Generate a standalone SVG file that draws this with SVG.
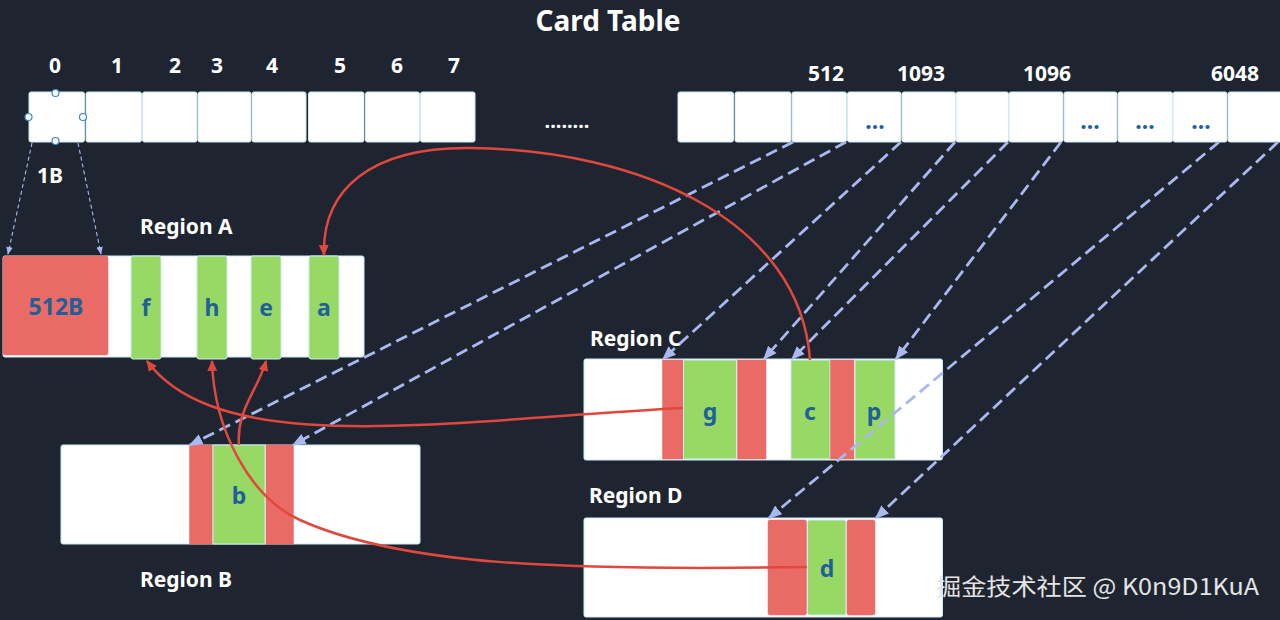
<svg xmlns="http://www.w3.org/2000/svg" width="1280" height="620" viewBox="0 0 1280 620">
<defs>
<style>
.bg{fill:#1e2530}
.cell{fill:#ffffff;stroke:#cdeaf6;stroke-width:1}
.reg{fill:#ffffff;stroke:#cdeaf6;stroke-width:1}
.red{fill:#ea6b66;stroke:#ea6b66;stroke-width:0.5}
.grn{fill:#97d964;stroke:#cdeaf6;stroke-width:1}
.t{font-family:"Noto Sans","Liberation Sans","Noto Sans CJK SC",sans-serif;font-weight:bold;fill:#ffffff}
.num{font-size:21px;text-anchor:middle}
.lbl{font-size:21px}
.in{font-family:"Noto Sans","Liberation Sans",sans-serif;font-weight:bold;fill:#20609a;font-size:23px;text-anchor:middle}
.dash{fill:none;stroke:#aab8f0;stroke-width:2.8;stroke-dasharray:12 6}
.dash1{fill:none;stroke:#aab8f0;stroke-width:1.1;stroke-dasharray:4 3}
.rc{fill:none;stroke:#e0483e;stroke-width:2.5}
.hd{fill:#ffffff;stroke:#3b82d6;stroke-width:1.2}
</style>
<marker id="ar" viewBox="0 0 10 10" refX="9" refY="5" markerWidth="11" markerHeight="11" markerUnits="userSpaceOnUse" orient="auto"><path d="M0,0.5 L10,5 L0,9.5 z" fill="#e0483e"/></marker>
<marker id="ab" viewBox="0 0 10 10" refX="9" refY="5" markerWidth="14" markerHeight="14" markerUnits="userSpaceOnUse" orient="auto"><path d="M0,1 L10,5 L0,9 z" fill="#aab8f0"/></marker>
<marker id="as" viewBox="0 0 10 10" refX="9" refY="5" markerWidth="8" markerHeight="8" markerUnits="userSpaceOnUse" orient="auto"><path d="M0,1 L10,5 L0,9 z" fill="#aab8f0"/></marker>
</defs>
<rect class="bg" x="0" y="0" width="1280" height="620"/>

<text class="t" x="608" y="31" font-size="28" text-anchor="middle">Card Table</text>

<g id="card-table-left">
<rect class="cell" x="29" y="92" width="55.5" height="50" rx="2"/>
<rect class="cell" x="86" y="92" width="55.5" height="50" rx="2"/>
<rect class="cell" x="142.5" y="92" width="54.5" height="50" rx="2"/>
<rect class="cell" x="198" y="92" width="53" height="50" rx="2"/>
<rect class="cell" x="252" y="92" width="54" height="50" rx="2"/>
<rect class="cell" x="308.5" y="92" width="55.5" height="50" rx="2"/>
<rect class="cell" x="365.5" y="92" width="54" height="50" rx="2"/>
<rect class="cell" x="420.5" y="92" width="54.5" height="50" rx="2"/>
<circle class="hd" cx="55.5" cy="93" r="3.5"/>
<circle class="hd" cx="55.5" cy="141" r="3.5"/>
<circle class="hd" cx="28.5" cy="117" r="3.5"/>
<circle class="hd" cx="83" cy="117" r="3.5"/>
<text class="t num" x="55" y="73">0</text>
<text class="t num" x="117" y="73">1</text>
<text class="t num" x="175" y="73">2</text>
<text class="t num" x="217" y="73">3</text>
<text class="t num" x="272" y="73">4</text>
<text class="t num" x="340" y="73">5</text>
<text class="t num" x="397" y="73">6</text>
<text class="t num" x="454" y="73">7</text>
<text class="t num" x="50" y="183">1B</text>
</g>

<g id="ellipsis">
<text class="t" x="567" y="128" font-size="20" text-anchor="middle">........</text>
</g>

<g id="card-table-right">
<rect class="cell" x="678" y="92" width="55.5" height="50" rx="2"/>
<rect class="cell" x="735" y="92" width="56" height="50" rx="2"/>
<rect class="cell" x="792" y="92" width="54.5" height="50" rx="2"/>
<rect class="cell" x="847.5" y="92" width="53.5" height="50" rx="2"/>
<rect class="cell" x="902" y="92" width="53.5" height="50" rx="2"/>
<rect class="cell" x="956" y="92" width="52.5" height="50" rx="2"/>
<rect class="cell" x="1009" y="92" width="54" height="50" rx="2"/>
<rect class="cell" x="1064" y="92" width="53" height="50" rx="2"/>
<rect class="cell" x="1118" y="92" width="54.5" height="50" rx="2"/>
<rect class="cell" x="1173" y="92" width="54" height="50" rx="2"/>
<rect class="cell" x="1228" y="92" width="56" height="50" rx="2"/>
<text class="in" x="875" y="129" font-size="17">...</text>
<text class="in" x="1090" y="129" font-size="17">...</text>
<text class="in" x="1145" y="129" font-size="17">...</text>
<text class="in" x="1201" y="129" font-size="17">...</text>
<text class="t num" x="826" y="81">512</text>
<text class="t num" x="921" y="81">1093</text>
<text class="t num" x="1047" y="81">1096</text>
<text class="t num" x="1235" y="81">6048</text>
</g>

<g id="region-a">
<text class="t lbl" x="140" y="234">Region A</text>
<rect class="reg" x="3" y="256" width="361" height="101" rx="2"/>
<rect class="red" x="3" y="256" width="105" height="99" rx="2"/>
<text class="in" x="56" y="315">512B</text>
<rect class="grn" x="131" y="256" width="30" height="103" rx="2"/>
<rect class="grn" x="197" y="256" width="30" height="103" rx="2"/>
<rect class="grn" x="251" y="256" width="30" height="103" rx="2"/>
<rect class="grn" x="309" y="256" width="30" height="103" rx="2"/>
<text class="in" x="146" y="316">f</text>
<text class="in" x="212" y="316">h</text>
<text class="in" x="266" y="316">e</text>
<text class="in" x="324" y="316">a</text>
</g>

<g id="region-b">
<rect class="reg" x="61" y="445" width="359" height="99" rx="2"/>
<rect class="red" x="189.5" y="445" width="23" height="99"/>
<rect class="grn" x="213" y="445" width="52" height="99"/>
<rect class="red" x="266" y="445" width="27.5" height="99"/>
<text class="in" x="239" y="504">b</text>
<text class="t lbl" x="140" y="587">Region B</text>
</g>

<g id="region-c">
<text class="t lbl" x="590" y="346">Region C</text>
<rect class="reg" x="584" y="359" width="358.5" height="101" rx="2"/>
<rect class="red" x="662.5" y="360" width="20.5" height="99"/>
<rect class="grn" x="683.5" y="360" width="53" height="99"/>
<rect class="red" x="737.5" y="360" width="28.5" height="99"/>
<rect class="grn" x="791" y="360" width="39" height="99"/>
<rect class="red" x="830.5" y="360" width="23.5" height="99"/>
<rect class="grn" x="855" y="360" width="40" height="99"/>
<text class="in" x="710" y="420">g</text>
<text class="in" x="810" y="420">c</text>
<text class="in" x="874" y="420">p</text>
</g>

<g id="region-d">
<text class="t lbl" x="589" y="503">Region D</text>
<rect class="reg" x="584" y="518" width="358.5" height="99" rx="2"/>
<rect class="red" x="768" y="520" width="38.5" height="95" rx="2"/>
<rect class="grn" x="807.5" y="520" width="38.5" height="95" rx="2"/>
<rect class="red" x="847" y="520" width="28" height="95" rx="2"/>
<text class="in" x="827" y="577">d</text>
</g>

<g id="connectors">
<path class="dash1" d="M32,143 L8,254" marker-end="url(#as)"/>
<path class="dash1" d="M78,143 L101,254" marker-end="url(#as)"/>
<path class="dash" d="M793,142 L190,445" marker-end="url(#ab)"/>
<path class="dash" d="M846,142 L293,445" marker-end="url(#ab)"/>
<path class="dash" d="M901,142 L663,359" marker-end="url(#ab)"/>
<path class="dash" d="M955,142 L764,359" marker-end="url(#ab)"/>
<path class="dash" d="M1008,142 L792,359" marker-end="url(#ab)"/>
<path class="dash" d="M1061,142 L896,359" marker-end="url(#ab)"/>
<path class="dash" d="M1219,142 L769,518" marker-end="url(#ab)"/>
<path class="dash" d="M1278,142 L876,518" marker-end="url(#ab)"/>
<path class="rc" d="M810,360 C800,220 640,150 470,148 C370,147 322,190 324,255" marker-end="url(#ar)"/>
<path class="rc" d="M683,408 C450,420 220,460 147,361" marker-end="url(#ar)"/>
<path class="rc" d="M239,445 C236,410 258,390 266,361" marker-end="url(#ar)"/>
<path class="rc" d="M807,567 C560,571 400,565 300,520 C250,497.5 214,430 212,361" marker-end="url(#ar)"/>
</g>

<text x="936" y="595" font-family="'Noto Sans CJK SC','Noto Sans',sans-serif" font-size="23" fill="#e4e4e4" textLength="323" lengthAdjust="spacingAndGlyphs">掘金技术社区 @ K0n9D1KuA</text>
</svg>
